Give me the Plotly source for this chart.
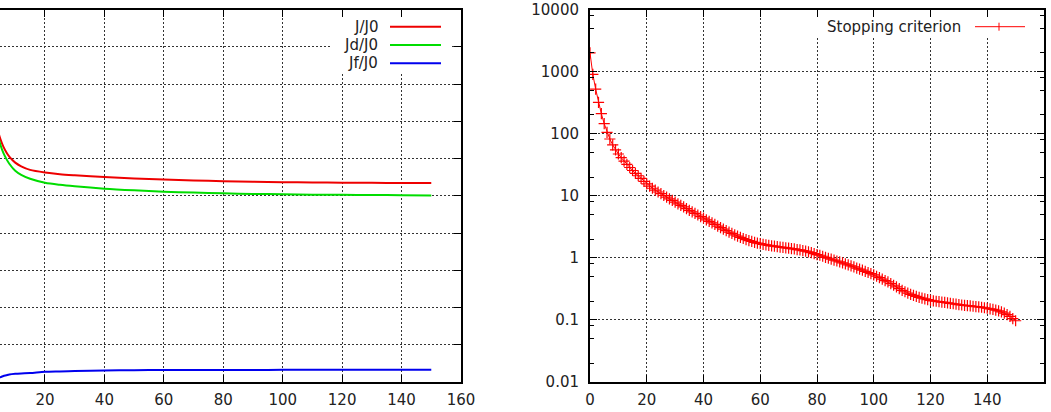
import plotly.graph_objects as go

# ---------------- data ----------------
iter_left = [0, 1, 2, 3, 4, 5, 6, 7, 8, 10, 12, 15, 20, 25, 30, 40, 50, 60, 70, 80,
             90, 100, 110, 120, 130, 140, 150]
j_over_j0 = [1.0, 0.86, 0.78, 0.72, 0.68, 0.652, 0.632, 0.617, 0.605, 0.589, 0.579, 0.5695,
             0.5625, 0.558, 0.555, 0.550, 0.5465, 0.5435, 0.541, 0.539, 0.5375, 0.5365,
             0.5358, 0.5352, 0.5347, 0.5343, 0.534]
jd_over_j0 = [1.0, 0.855, 0.77, 0.71, 0.667, 0.637, 0.615, 0.599, 0.586, 0.567, 0.556,
              0.5455, 0.535, 0.5295, 0.5255, 0.519, 0.5145, 0.511, 0.5085, 0.5065, 0.505,
              0.504, 0.503, 0.5024, 0.502, 0.5015, 0.501]
jf_over_j0 = [0.0, 0.005, 0.008, 0.01, 0.012, 0.013, 0.016, 0.018, 0.02, 0.022, 0.023,
              0.024, 0.0275, 0.0285, 0.0295, 0.031, 0.0318, 0.032, 0.0322, 0.0324, 0.0325,
              0.0326, 0.0327, 0.0328, 0.0328, 0.0329, 0.033]

stop_crit = [2000, 900, 520, 320, 210, 145, 105, 82, 66, 55,
             47, 41, 36, 32, 28.5, 25.5, 23, 21, 19, 17,
             15.5, 14.3, 13.2, 12.3, 11.5, 10.8, 10.1, 9.5, 8.9, 8.4,
             7.9, 7.4, 7.0, 6.6, 6.2, 5.8, 5.5, 5.2, 4.9, 4.6,
             4.35, 4.1, 3.88, 3.66, 3.45, 3.25, 3.07, 2.9, 2.74, 2.6,
             2.47, 2.35, 2.24, 2.14, 2.05, 1.97, 1.9, 1.84, 1.78, 1.73,
             1.69, 1.65, 1.62, 1.59, 1.56, 1.54, 1.51, 1.49, 1.47, 1.45,
             1.43, 1.41, 1.39, 1.36, 1.34, 1.31, 1.28, 1.25, 1.21, 1.17,
             1.13, 1.10, 1.06, 1.02, 0.985, 0.95, 0.92, 0.89, 0.86, 0.83,
             0.80, 0.77, 0.74, 0.715, 0.685, 0.66, 0.632, 0.605, 0.58, 0.555,
             0.53, 0.505, 0.48, 0.455, 0.43, 0.41, 0.385, 0.362, 0.34, 0.32,
             0.30, 0.284, 0.27, 0.258, 0.248, 0.239, 0.231, 0.224, 0.218, 0.212,
             0.207, 0.203, 0.200, 0.197, 0.194, 0.191, 0.188, 0.185, 0.182, 0.179,
             0.176, 0.174, 0.172, 0.170, 0.168, 0.166, 0.164, 0.162, 0.160, 0.157,
             0.154, 0.151, 0.148, 0.144, 0.140, 0.135, 0.129, 0.122, 0.114, 0.105,
             0.097]
iter_right = list(range(len(stop_crit)))

log_tick_vals = [0.01, 0.1, 1, 10, 100, 1000, 10000]
log_tick_text = ["0.01", "0.1", "1", "10", "100", "1000", "10000"]
minor_mult = [2, 5, 8]

left_names = ["J/J0", "Jd/J0", "Jf/J0"]
left_colors = ["#ee0000", "#00dd00", "#0000ee"]
right_name = "Stopping criterion"

# ---------------- styling ----------------
W, H = 1051, 412
FONT = dict(family="DejaVu Sans", size=15, color="#222")
GRID = dict(showgrid=True, gridcolor="#333", gridwidth=1, griddash="2px,2px")
LINE = dict(showline=True, linecolor="black", linewidth=2)

PLOT_TOP, PLOT_BOT = 9.5, 382.0
L_LEFT, L_RIGHT, L_X0, L_X1 = 0.0, 461.0, 4.87, 160.0
R_LEFT, R_RIGHT = 590.0, 1044.0


def px_x(p):
    return p / W


def px_y(p):
    return (H - p) / H


fig = go.Figure()

for name, ys, col in zip(left_names, [j_over_j0, jd_over_j0, jf_over_j0], left_colors):
    fig.add_trace(go.Scatter(x=iter_left, y=ys, mode="lines", name=name,
                             line=dict(color=col, width=2, shape="spline", smoothing=0.8),
                             xaxis="x", yaxis="y", showlegend=False))

fig.add_trace(go.Scatter(x=iter_right, y=stop_crit, mode="lines+markers", name=right_name,
                         line=dict(color="#ff0000", width=1),
                         marker=dict(symbol="cross-thin", size=8,
                                     line=dict(color="#ff0000", width=1.2)),
                         xaxis="x2", yaxis="y2", showlegend=False))

minor_vals = [m * v for v in log_tick_vals[:-1] for m in minor_mult]

ydom = [px_y(PLOT_BOT), px_y(PLOT_TOP)]

fig.update_layout(
    width=W, height=H,
    margin=dict(l=0, r=0, t=0, b=0),
    paper_bgcolor="white", plot_bgcolor="white",
    font=FONT,
    xaxis=dict(domain=[px_x(L_LEFT), px_x(L_RIGHT)], range=[L_X0, L_X1], tick0=0, dtick=20,
               ticks="inside", ticklen=7, tickcolor="black", mirror="ticks",
               zeroline=False, automargin=False, ticklabelstandoff=3,
               **GRID, **LINE),
    yaxis=dict(domain=ydom, range=[0, 1], dtick=0.1, side="right",
               ticks="inside", ticklen=7, tickcolor="black",
               showticklabels=False, zeroline=False, automargin=False,
               **GRID, **LINE),
    xaxis2=dict(domain=[px_x(R_LEFT), px_x(R_RIGHT)], range=[0, 160], tick0=0, dtick=20,
                anchor="y2", ticks="inside", ticklen=7, tickcolor="black",
                mirror="ticks", zeroline=False, automargin=False, ticklabelstandoff=3,
                **GRID, **LINE),
    yaxis2=dict(domain=ydom, type="log", range=[-2, 4], anchor="x2",
                tickmode="array", tickvals=log_tick_vals, ticktext=log_tick_text,
                ticks="inside", ticklen=7, tickcolor="black", mirror="allticks",
                minor=dict(tickmode="array", tickvals=minor_vals, ticks="inside",
                           ticklen=4, tickcolor="black", showgrid=False),
                zeroline=False, automargin=False, ticklabelstandoff=6,
                **GRID, **LINE),
)

# white boxes behind the gnuplot-style keys (hide the grid there), then the keys
shapes = [
    dict(type="rect", xref="paper", yref="paper", layer="above",
         x0=px_x(330), x1=px_x(451), y0=px_y(73), y1=px_y(18),
         fillcolor="white", line=dict(width=0)),
    dict(type="rect", xref="paper", yref="paper", layer="above",
         x0=px_x(814), x1=px_x(1034), y0=px_y(37), y1=px_y(18),
         fillcolor="white", line=dict(width=0)),
]
annotations = []
for i, (name, col) in enumerate(zip(left_names, left_colors)):
    yk = 26.7 + i * 18.3
    annotations.append(dict(text=name, x=px_x(380), y=px_y(yk), xref="paper", yref="paper",
                            xanchor="right", yanchor="middle", showarrow=False, font=FONT))
    shapes.append(dict(type="line", xref="paper", yref="paper", x0=px_x(390), x1=px_x(441),
                       y0=px_y(yk), y1=px_y(yk), line=dict(color=col, width=2)))

yk = 26.7
annotations.append(dict(text=right_name, x=px_x(963), y=px_y(yk), xref="paper", yref="paper",
                        xanchor="right", yanchor="middle", showarrow=False, font=FONT))
shapes.append(dict(type="line", xref="paper", yref="paper", x0=px_x(975), x1=px_x(1025),
                   y0=px_y(yk), y1=px_y(yk), line=dict(color="#ff0000", width=1)))
shapes.append(dict(type="line", xref="paper", yref="paper", x0=px_x(999), x1=px_x(999),
                   y0=px_y(yk - 4), y1=px_y(yk + 4), line=dict(color="#ff0000", width=1)))

fig.update_layout(shapes=shapes, annotations=annotations)

fig.write_html("out.html")
